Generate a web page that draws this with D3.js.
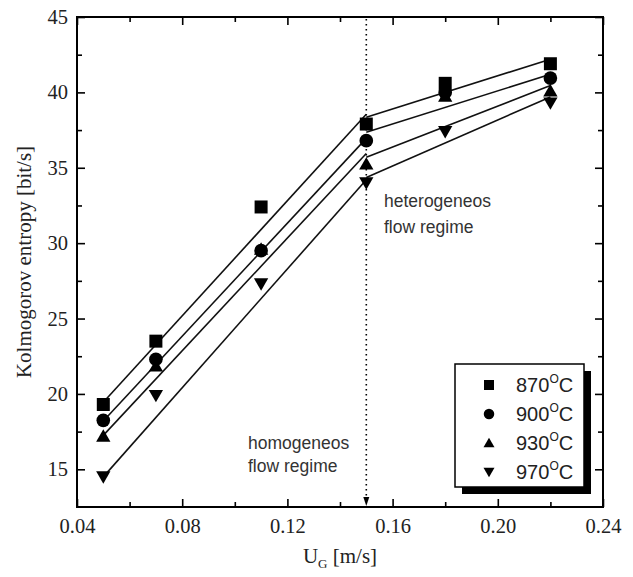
<!DOCTYPE html>
<html><head><meta charset="utf-8">
<script src="https://cdn.jsdelivr.net/npm/d3@7"></script>
<style>body{margin:0;background:#fff}</style>
</head><body>
<script>
// ---- data ----
const xValues = [0.05, 0.07, 0.11, 0.15, 0.18, 0.22];
const t870 = [19.3, 23.5, 32.4, 37.9, 40.6, 41.9];
const t900 = [18.25, 22.3, 29.5, 36.8, 40.0, 40.95];
const t930 = [17.2, 21.85, 29.6, 35.25, 39.75, 40.1];
const t970 = [14.5, 19.9, 27.3, 34.0, 37.4, 39.3];
const seriesNames = ["870", "900", "930", "970"];
// fitted lines (end values)
const fitLowX = [0.05, 0.15];
const fitHighX = [0.15, 0.22];
const fit870Low = [19.45, 38.55], fit870High = [38.35, 42.2];
const fit900Low = [18.2, 36.95],  fit900High = [37.35, 41.2];
const fit930Low = [17.25, 35.95], fit930High = [35.7, 40.45];
const fit970Low = [14.5, 34.2],   fit970High = [34.35, 39.7];
const xTicks = [0.04, 0.08, 0.12, 0.16, 0.20, 0.24];
const xMinor = [0.06, 0.10, 0.14, 0.18, 0.22];
const yTicks = [15, 20, 25, 30, 35, 40, 45];
const yMinor = [17.5, 22.5, 27.5, 32.5, 37.5, 42.5];
const regimeX = 0.15;

const W = 633, H = 577;
const L = 77, R = 603, T = 17, B = 507;
const svg = d3.select("body").append("svg").attr("width", W).attr("height", H);
const x = d3.scaleLinear().domain([0.04, 0.24]).range([L, R]);
const y = d3.scaleLinear().domain([12.5, 45]).range([B, T]);

const serif = "Liberation Serif, Times New Roman, serif";
const sans = "Liberation Sans, Arial, sans-serif";

// axes
function styleAxis(g, labels) {
  g.select(".domain").remove();
  g.selectAll(".tick line").attr("stroke", "#000").attr("stroke-width", 1.6);
  g.selectAll(".tick text").attr("font-family", serif).attr("font-size", 20.5).attr("fill", "#222");
  if (!labels) g.selectAll(".tick text").remove();
}
svg.append("g").attr("transform", `translate(0,${B})`)
  .call(d3.axisBottom(x).tickValues(xTicks).tickSizeInner(-8).tickSizeOuter(0).tickPadding(11).tickFormat(d3.format(".2f")))
  .call(g => styleAxis(g, true));
svg.append("g").attr("transform", `translate(0,${B})`)
  .call(d3.axisBottom(x).tickValues(xMinor).tickSizeInner(-5).tickSizeOuter(0).tickFormat(""))
  .call(g => styleAxis(g, false));
svg.append("g").attr("transform", `translate(0,${T})`)
  .call(d3.axisTop(x).tickValues(xTicks).tickSizeInner(-8).tickSizeOuter(0).tickFormat(""))
  .call(g => styleAxis(g, false));
svg.append("g").attr("transform", `translate(0,${T})`)
  .call(d3.axisTop(x).tickValues(xMinor).tickSizeInner(-5).tickSizeOuter(0).tickFormat(""))
  .call(g => styleAxis(g, false));
svg.append("g").attr("transform", `translate(${L},0)`)
  .call(d3.axisLeft(y).tickValues(yTicks).tickSizeInner(-8).tickSizeOuter(0).tickPadding(9).tickFormat(d3.format("d")))
  .call(g => styleAxis(g, true));
svg.append("g").attr("transform", `translate(${L},0)`)
  .call(d3.axisLeft(y).tickValues(yMinor).tickSizeInner(-5).tickSizeOuter(0).tickFormat(""))
  .call(g => styleAxis(g, false));
svg.append("g").attr("transform", `translate(${R},0)`)
  .call(d3.axisRight(y).tickValues(yTicks).tickSizeInner(-8).tickSizeOuter(0).tickFormat(""))
  .call(g => styleAxis(g, false));
svg.append("g").attr("transform", `translate(${R},0)`)
  .call(d3.axisRight(y).tickValues(yMinor).tickSizeInner(-5).tickSizeOuter(0).tickFormat(""))
  .call(g => styleAxis(g, false));

// frame
svg.append("rect").attr("x", L).attr("y", T).attr("width", R - L).attr("height", B - T)
  .attr("fill", "none").attr("stroke", "#000").attr("stroke-width", 2);

// dotted vertical line with arrow
svg.append("line").attr("x1", x(regimeX)).attr("x2", x(regimeX)).attr("y1", y(45) + 2).attr("y2", B - 8)
  .attr("stroke", "#000").attr("stroke-width", 1.6).attr("stroke-dasharray", "1.6,3.4");
svg.append("path")
  .attr("d", `M${x(regimeX) - 3},${B - 10} L${x(regimeX) + 3},${B - 10} L${x(regimeX)},${B - 1} Z`)
  .attr("fill", "#000");

// fit lines
const fits = [[fit870Low, fit870High], [fit900Low, fit900High], [fit930Low, fit930High], [fit970Low, fit970High]];
const line = d3.line().x(d => x(d[0])).y(d => y(d[1]));
fits.forEach(([lo, hi]) => {
  svg.append("path").attr("d", line(fitLowX.map((v, i) => [v, lo[i]])))
    .attr("fill", "none").attr("stroke", "#111").attr("stroke-width", 1.6);
  svg.append("path").attr("d", line(fitHighX.map((v, i) => [v, hi[i]])))
    .attr("fill", "none").attr("stroke", "#111").attr("stroke-width", 1.6);
});

// marker shapes
function shape(kind, s) {
  const h = s / 2;
  if (kind === 0) return `M${-h},${-h}H${h}V${h}H${-h}Z`;
  if (kind === 1) { const r = h * 1.05; return `M${-r},0A${r},${r} 0 1,0 ${r},0A${r},${r} 0 1,0 ${-r},0Z`; }
  if (kind === 2) return `M0,${-h * 1.05}L${h * 1.1},${h * 0.85}L${-h * 1.1},${h * 0.85}Z`;
  return `M0,${h * 1.05}L${h * 1.1},${-h * 0.85}L${-h * 1.1},${-h * 0.85}Z`;
}
const allSeries = [t870, t900, t930, t970];
allSeries.forEach((vals, k) => {
  svg.append("g").selectAll("path").data(vals).join("path")
    .attr("transform", (d, i) => `translate(${x(xValues[i])},${y(d)})`)
    .attr("d", shape(k, 13)).attr("fill", "#000");
});

// annotations
const ann = svg.append("g").attr("font-family", sans).attr("font-size", 17.5).attr("fill", "#333");
ann.append("text").attr("x", 384).attr("y", 207).text("heterogeneos");
ann.append("text").attr("x", 384).attr("y", 233).text("flow regime");
ann.append("text").attr("x", 248).attr("y", 449).text("homogeneos");
ann.append("text").attr("x", 248).attr("y", 472).text("flow regime");

// legend
const lx = 455, ly = 364, lw = 129, lh = 123;
svg.append("rect").attr("x", lx + 7).attr("y", ly + 7).attr("width", lw).attr("height", lh).attr("fill", "#000");
svg.append("rect").attr("x", lx).attr("y", ly).attr("width", lw).attr("height", lh)
  .attr("fill", "#fff").attr("stroke", "#000").attr("stroke-width", 1.5);
seriesNames.forEach((nm, k) => {
  const cy = ly + 21 + k * 29;
  svg.append("path").attr("transform", `translate(${lx + 34},${cy})`).attr("d", shape(k, 10)).attr("fill", "#000");
  const t = svg.append("text").attr("x", lx + 61).attr("y", cy + 7)
    .attr("font-family", sans).attr("font-size", 20).attr("fill", "#222");
  t.append("tspan").text(nm);
  t.append("tspan").attr("dy", -9).attr("font-size", 12).text("O");
  t.append("tspan").attr("dy", 9).text("C");
});

// axis titles
svg.append("text").attr("transform", `translate(31,${(T + B) / 2}) rotate(-90)`)
  .attr("text-anchor", "middle").attr("font-family", serif).attr("font-size", 21).attr("fill", "#222")
  .text("Kolmogorov entropy [bit/s]");
const xt = svg.append("text").attr("x", (L + R) / 2).attr("y", 563).attr("text-anchor", "middle")
  .attr("font-family", serif).attr("font-size", 21).attr("fill", "#222");
xt.append("tspan").text("U");
xt.append("tspan").attr("dy", 5).attr("font-size", 13).text("G");
xt.append("tspan").attr("dy", -5).text(" [m/s]");
</script>
</body></html>
